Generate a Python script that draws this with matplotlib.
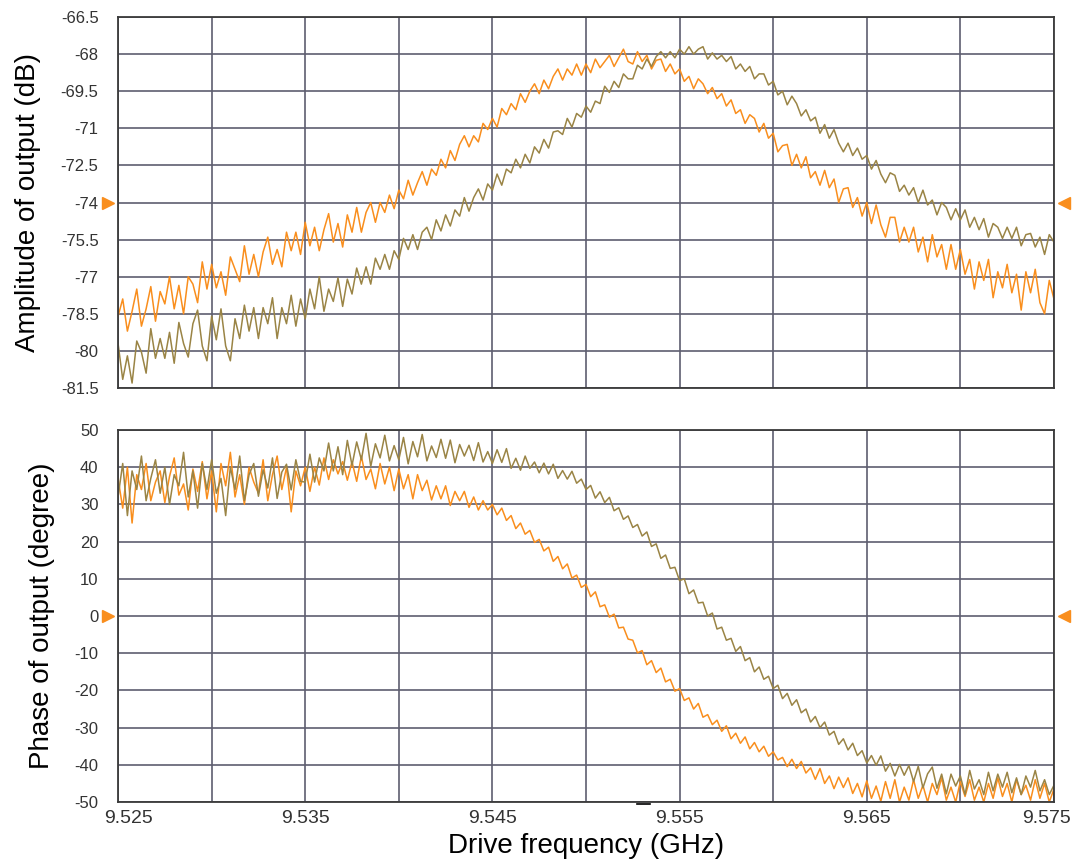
import numpy as np
import matplotlib
matplotlib.use("Agg")
import matplotlib.pyplot as plt
import matplotlib.transforms as mtransforms

plt.rcParams['font.family'] = ['Liberation Sans', 'DejaVu Sans']

ORANGE = "#F98E1D"
BROWN = "#9A8445"
GRID = "#5E5E70"

# drive frequency sweep (GHz), 0.00025 GHz steps
freq = np.linspace(9.525, 9.575, 201)

# amplitude of output (dB)
amp_orange = [
    -78.6, -77.9, -79.2, -78.4, -77.5, -79.0, -78.3, -77.4, -78.8, -77.6,
    -78.1, -77.0, -78.3, -77.35, -78.5, -77.0, -77.3, -78.05, -76.4, -77.5,
    -76.5, -77.45, -76.8, -77.75, -76.2, -76.7, -77.2, -75.75, -76.9, -76.1,
    -77.0, -76.0, -75.4, -76.5, -75.9, -76.6, -75.2, -75.95, -75.2, -76.1,
    -74.8, -75.75, -75.0, -75.95, -75.1, -74.45, -75.6, -74.85, -75.8, -74.5,
    -75.2, -74.2, -75.2, -74.4, -74.0, -74.8, -74.0, -74.4, -73.7, -74.25,
    -73.5, -73.85, -73.1, -73.7, -73.2, -72.75, -73.3, -72.65, -72.9, -72.25,
    -72.6, -71.9, -72.3, -71.65, -71.3, -71.75, -71.3, -71.55, -70.8, -71.05,
    -70.6, -70.95, -70.2, -70.45, -70.0, -70.25, -69.6, -69.95, -69.5, -69.2,
    -69.6, -69.05, -69.4, -68.9, -68.6, -69.05, -68.6, -68.85, -68.4, -68.85,
    -68.4, -68.75, -68.2, -68.55, -68.3, -68.05, -68.5, -68.15, -67.8, -68.3,
    -68.4, -67.9, -68.3, -68.05, -68.6, -68.25, -68.2, -68.7, -68.4, -68.8,
    -68.6, -69.1, -68.9, -69.4, -69.0, -69.2, -69.6, -69.35, -69.8, -69.6,
    -70.1, -69.85, -70.4, -70.25, -70.8, -70.45, -70.6, -71.15, -70.8, -71.4,
    -71.2, -71.95, -71.7, -71.65, -72.5, -72.05, -72.6, -72.15, -73.0, -72.75,
    -73.3, -72.7, -73.4, -73.05, -74.0, -73.45, -73.4, -74.2, -73.8, -74.55,
    -74.0, -74.85, -74.1, -74.9, -75.4, -74.6, -74.6, -75.6, -75.0, -75.6,
    -75.0, -76.0, -75.4, -76.4, -75.3, -76.2, -75.7, -76.7, -75.7, -76.7,
    -75.9, -76.9, -76.3, -77.5, -76.4, -77.15, -76.3, -77.85, -76.8, -77.45,
    -76.5, -77.65, -76.9, -78.35, -76.8, -77.65, -76.7, -78.05, -78.5, -77.15,
    -77.9]
amp_brown = [
    -79.7, -81.15, -80.2, -81.3, -79.6, -80.05, -80.9, -79.1, -80.3, -79.5,
    -80.3, -79.25, -80.5, -78.85, -79.7, -80.25, -78.9, -78.35, -79.8, -80.4,
    -78.6, -79.55, -78.3, -79.8, -80.4, -78.7, -79.5, -78.15, -79.2, -78.25,
    -79.5, -78.25, -78.9, -77.85, -79.5, -78.25, -78.9, -77.75, -79.0, -77.9,
    -78.7, -77.5, -78.3, -77.0, -78.4, -77.5, -78.0, -77.05, -78.2, -77.1,
    -77.7, -76.65, -77.3, -76.6, -77.3, -76.25, -76.7, -76.1, -76.7, -75.95,
    -76.3, -75.45, -75.9, -75.3, -75.9, -75.2, -75.0, -75.5, -74.7, -75.15,
    -74.5, -74.95, -74.3, -74.55, -73.8, -74.35, -73.8, -73.45, -73.9, -73.25,
    -73.5, -72.85, -73.3, -72.65, -72.8, -72.25, -72.6, -72.05, -72.4, -71.75,
    -72.0, -71.45, -71.8, -71.15, -71.1, -71.25, -70.6, -70.95, -70.4, -70.55,
    -70.1, -70.35, -69.9, -70.0, -69.3, -69.55, -69.1, -69.35, -68.8, -69.0,
    -69.0, -68.45, -68.6, -68.2, -68.5, -68.1, -67.9, -68.15, -67.9, -68.15,
    -67.8, -68.0, -67.7, -68.0, -67.8, -67.7, -68.2, -67.95, -68.2, -68.05,
    -68.3, -68.1, -68.6, -68.4, -68.7, -68.5, -69.0, -68.8, -68.8, -69.25,
    -69.1, -69.65, -69.5, -70.05, -69.7, -70.0, -70.5, -70.25, -70.7, -70.55,
    -71.2, -70.85, -71.4, -71.05, -71.6, -71.95, -71.6, -72.1, -71.8, -72.25,
    -72.1, -72.65, -72.3, -72.85, -73.2, -72.8, -72.9, -73.55, -73.3, -73.7,
    -73.4, -74.0, -73.5, -74.1, -73.9, -74.5, -74.0, -74.2, -74.7, -74.25,
    -74.7, -74.3, -75.0, -74.6, -75.1, -74.65, -75.4, -74.85, -75.0, -75.45,
    -75.0, -75.45, -75.0, -75.75, -75.3, -75.25, -75.8, -75.4, -76.1, -75.3,
    -75.6]

# phase of output (degree)
ph_orange = [
    37, 29, 40, 25, 38, 34, 41, 31, 36, 39,
    30.5, 37.5, 42.5, 32.5, 35.5, 28.5, 39.5, 33.5, 41.5, 31.5,
    39, 28, 41, 35, 44, 32, 38, 30, 40, 36,
    33, 42, 31, 38, 43, 34, 40, 28, 39, 35,
    40, 33.5, 40, 35.2, 42.5, 36.7, 42, 38.2, 41.5, 36.5,
    41.5, 36.2, 43, 36.7, 39.5, 34.2, 41, 35.5, 40, 33.7,
    39.5, 34.2, 38, 31.5, 38, 33.7, 36.5, 31.2, 35, 31.5,
    35, 29.7, 33.5, 31, 33.5, 29.2, 32, 28.5, 31, 28.5,
    30, 27.2, 29, 25.7, 27, 23.5, 25, 22, 23, 19.8,
    20.6, 17.5, 18.5, 14.7, 16, 12.7, 14, 10.2, 11, 7.7,
    8.5, 5.2, 6.5, 2.5, 3, -0.3, 0.5, -3.2, -3, -6.2,
    -6.5, -9.9, -9.3, -13.1, -12, -15.2, -14, -17.7, -17, -20.2,
    -19.5, -22.7, -22, -25, -23.5, -27.2, -26.5, -29.2, -28, -31,
    -29.5, -33, -31.5, -34.2, -32.5, -35.7, -34, -36.5, -35, -37.7,
    -36.5, -38.7, -38, -40.5, -38.5, -41, -39.1, -42.2, -40.8, -43.9,
    -41, -45, -43, -46.4, -43.3, -46.1, -43.5, -47.7, -45, -48.6,
    -44.3, -49, -45.7, -49.8, -44.5, -49, -44, -50, -46, -49.5,
    -44, -49, -45.5, -50, -45, -48, -43.5, -49.5, -46, -50,
    -44.5, -48.5, -44, -49.5, -46, -50, -45, -49, -43.5, -48.5,
    -45, -50, -44, -48, -45.5, -49.5, -44, -49, -45, -50,
    -46.5]
ph_brown = [
    32, 41, 27, 39, 34, 43, 31, 37, 42, 33,
    40, 30, 38, 35, 44, 32, 39, 29, 41, 34,
    42, 33, 37, 27, 40, 34, 43, 31, 38, 41,
    32.2, 39.3, 34.4, 42.5, 31.6, 38.7, 40.8, 33.9, 42, 36.2,
    36, 43.5, 36, 42.5, 39, 46.5, 39, 45.5, 38, 47.2,
    40.5, 46.8, 42, 49.1, 40.2, 46.3, 42.5, 48.6, 41.7, 45.8,
    42, 48, 40.9, 46.9, 42.8, 48.8, 41.7, 45.7, 42.6, 47.5,
    42.4, 47.3, 41.2, 46.1, 43, 45.9, 41.8, 46.6, 41.4, 44.2,
    41, 44.7, 41.3, 45, 39.7, 42.4, 39.2, 43, 39.7, 41.4,
    38.5, 41.1, 38.2, 40.8, 37, 39.1, 36.8, 38.9, 35.7, 36.8,
    34, 35.1, 31.7, 33.4, 30.5, 31.9, 28.3, 29.1, 26, 26.9,
    23.8, 24.6, 21.5, 22.6, 18.7, 19.4, 15.5, 16.4, 12.8, 13.1,
    9.5, 10, 6, 7, 3.5, 3.7, 0, 0.8, -3.5, -3,
    -6.5, -6, -9.5, -8.2, -12, -11.2, -15, -13.7, -17, -16.2,
    -19.5, -18.6, -22.2, -20.8, -24, -22.5, -26, -25, -28.5, -27,
    -30, -28.5, -32, -31, -34.5, -33, -36, -34.2, -37.5, -36.2,
    -39.5, -37.5, -40.1, -37.6, -41.7, -39.6, -43, -39.9, -42.8, -40.2,
    -44.5, -40.4, -46.2, -42.4, -40.6, -46.3, -42.5, -47.8, -42.5, -45.7,
    -43, -48, -41.5, -46.5, -44, -48, -42, -47, -42.5, -46,
    -42, -47.5, -43.5, -48, -43, -46, -41.5, -47, -44, -48,
    -45.5]

xticks = [9.525, 9.535, 9.545, 9.555, 9.565, 9.575]
xgrid = [9.53, 9.54, 9.55, 9.56, 9.57]
amp_ticks = [-66.5, -68, -69.5, -71, -72.5, -74, -75.5, -77, -78.5, -80, -81.5]
ph_ticks = [50, 40, 30, 20, 10, 0, -10, -20, -30, -40, -50]

fig = plt.figure(figsize=(10.77, 8.68), dpi=100)
ax1 = fig.add_axes([0.1096, 0.553, 0.869, 0.4274])
ax2 = fig.add_axes([0.1096, 0.076, 0.869, 0.4286])

def style(ax, yticks, ylim):
    ax.set_xlim(9.525, 9.575)
    ax.set_ylim(*ylim)
    ax.set_yticks(yticks)
    ax.set_yticklabels([("%g" % t) for t in yticks], fontsize=12, color="#333333")
    ax.set_xticks(xticks)
    ax.set_xticks(xgrid, minor=True)
    ax.tick_params(which="both", length=0)
    ax.tick_params(axis="y", pad=14)
    ax.tick_params(axis="x", pad=6)
    ax.grid(True, which="both", color=GRID, linewidth=1.2)
    ax.set_axisbelow(True)
    for s in ax.spines.values():
        s.set_color("#3a3a3a")
        s.set_linewidth(1.3)

ax1.plot(freq, amp_orange, color=ORANGE, lw=1.1)
ax1.plot(freq, amp_brown, color=BROWN, lw=1.1)
style(ax1, amp_ticks, (-81.5, -66.5))
ax1.set_xticklabels([])
ax1.set_ylabel("Amplitude of output (dB)", fontsize=20, labelpad=14)

ax2.plot(freq, ph_orange, color=ORANGE, lw=1.1)
ax2.plot(freq, ph_brown, color=BROWN, lw=1.1)
style(ax2, ph_ticks, (-50, 50))
ax2.set_xticklabels(["%.3f" % t for t in xticks], fontsize=14, color="#333333")
ax2.set_ylabel("Phase of output (degree)", fontsize=20, labelpad=14)
ax2.set_xlabel("Drive frequency (GHz)", fontsize=20, labelpad=4)

# end labels sit a little inside the axis ends
lbls = ax2.get_xticklabels()
lbls[0].set_transform(lbls[0].get_transform() +
                      mtransforms.ScaledTranslation(0.10, 0, fig.dpi_scale_trans))
lbls[-1].set_transform(lbls[-1].get_transform() +
                       mtransforms.ScaledTranslation(-0.07, 0, fig.dpi_scale_trans))

# reference level markers on both sides
for ax, lvl in ((ax1, -74), (ax2, 0)):
    tr = mtransforms.blended_transform_factory(ax.transAxes, ax.transData)
    ax.plot([-0.011], [lvl], marker=">", color=ORANGE, ms=9, transform=tr, clip_on=False)
    ax.plot([1.011], [lvl], marker="<", color=ORANGE, ms=9, transform=tr, clip_on=False)

# small dash below the lower axis
ax2.plot([0.554, 0.568], [-0.004, -0.004], color="black", lw=1.2,
         transform=ax2.transAxes, clip_on=False)

fig.savefig("out.png", dpi=100)
